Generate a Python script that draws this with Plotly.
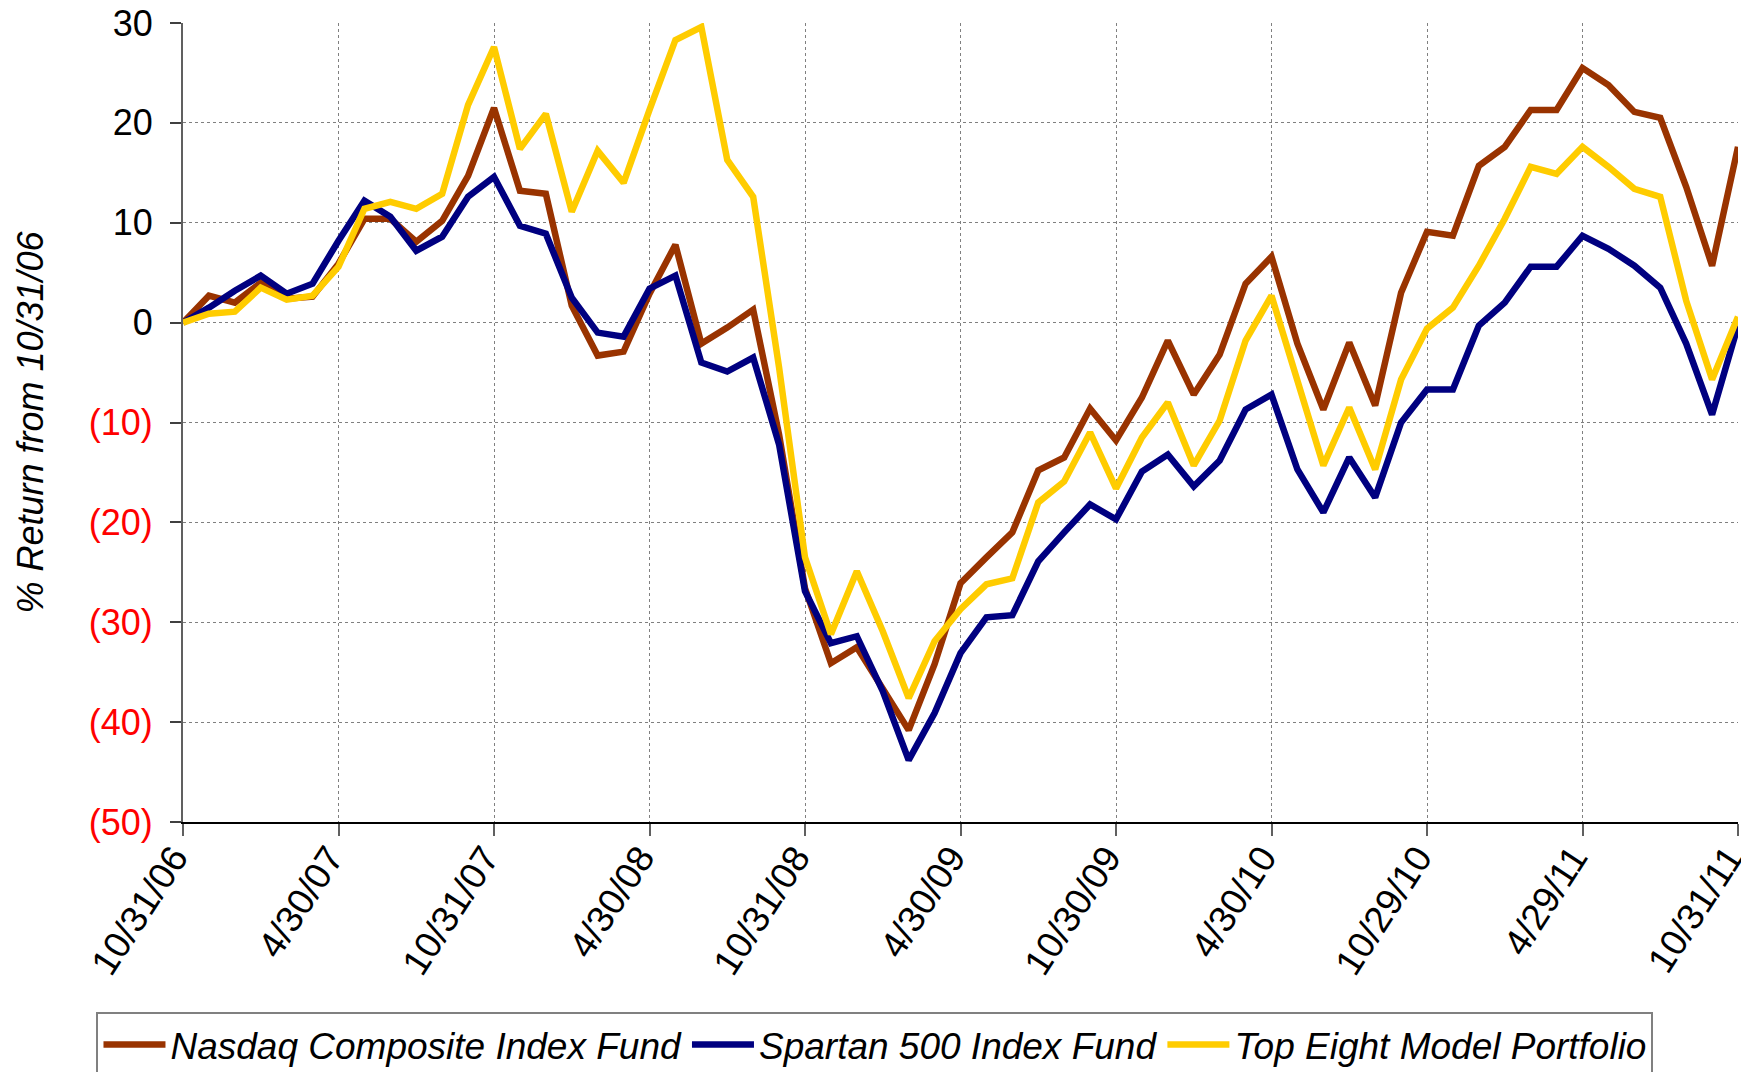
import pandas as pd
import plotly.graph_objects as go

# Month-end dates (business month ends) from 10/31/06 to 10/31/11
months = [d.strftime("%-m/%d/%y") for d in pd.date_range("2006-10-31", periods=61, freq="BME")]

nasdaq = [0, 2.7, 2.0, 4.0, 2.4, 2.6, 5.9, 10.4, 10.4, 8.1, 10.2, 14.7, 21.5, 13.2, 12.9, 1.7,
          -3.3, -2.9, 2.9, 7.8, -2.1, -0.5, 1.3, -11.2, -26.6, -34.1, -32.5, -36.6, -40.8, -34.2,
          -26.1, -23.5, -21.0, -14.8, -13.5, -8.6, -11.8, -7.5, -1.8, -7.2, -3.2, 3.9, 6.6, -2.1,
          -8.7, -2.0, -8.3, 3.0, 9.1, 8.7, 15.7, 17.6, 21.3, 21.3, 25.5, 23.8, 21.1, 20.5, 13.6,
          5.7, 17.6]
spartan = [0, 1.5, 3.2, 4.7, 2.9, 3.9, 8.2, 12.2, 10.6, 7.2, 8.6, 12.6, 14.6, 9.7, 8.9, 2.5,
           -1.0, -1.4, 3.4, 4.7, -4.0, -4.9, -3.5, -12.2, -26.9, -32.1, -31.4, -36.9, -43.8, -39.1,
           -33.1, -29.5, -29.3, -23.9, -21.0, -18.2, -19.7, -14.9, -13.2, -16.4, -13.8, -8.7, -7.2,
           -14.7, -19.0, -13.5, -17.5, -10.0, -6.7, -6.7, -0.3, 2.0, 5.6, 5.6, 8.7, 7.4, 5.7, 3.5,
           -2.1, -9.2, -0.3]
top_eight = [0, 0.9, 1.1, 3.5, 2.3, 2.7, 5.6, 11.4, 12.1, 11.4, 12.9, 21.8, 27.6, 17.4, 20.9, 11.1,
             17.2, 14.0, 21.3, 28.3, 29.6, 16.3, 12.6, -4.5, -23.5, -31.2, -24.9, -30.9, -37.6, -31.9,
             -28.7, -26.2, -25.6, -18.0, -15.9, -11.0, -16.6, -11.5, -8.0, -14.3, -9.8, -1.8, 2.7,
             -5.8, -14.3, -8.5, -14.7, -5.7, -0.6, 1.5, 5.7, 10.4, 15.6, 14.9, 17.6, 15.6, 13.4, 12.6,
             2.2, -5.7, 0.6]

series_names = ["Nasdaq Composite Index Fund", "Spartan 500 Index Fund", "Top Eight Model Portfolio"]
series_colors = ["#993300", "#000080", "#FFCC00"]

tick_labels = ["10/31/06", "4/30/07", "10/31/07", "4/30/08", "10/31/08", "4/30/09",
               "10/30/09", "4/30/10", "10/29/10", "4/29/11", "10/31/11"]
y_ticks = [30, 20, 10, 0, -10, -20, -30, -40, -50]
y_ticktext = ["30", "20", "10", "0",
              "<span style='color:#FF0000'>(10)</span>",
              "<span style='color:#FF0000'>(20)</span>",
              "<span style='color:#FF0000'>(30)</span>",
              "<span style='color:#FF0000'>(40)</span>",
              "<span style='color:#FF0000'>(50)</span>"]

FONT = "Liberation Sans, Arial, sans-serif"

fig = go.Figure()
for name, vals, col in zip(series_names, [nasdaq, spartan, top_eight], series_colors):
    fig.add_trace(go.Scatter(x=months, y=vals, mode="lines", name=name,
                             line=dict(color=col, width=6.5)))

fig.update_layout(
    width=1749, height=1072,
    margin=dict(l=175, r=19, t=15, b=258, autoexpand=False),
    paper_bgcolor="white", plot_bgcolor="white",
    font=dict(family=FONT, size=36, color="black"),
    showlegend=True,
    legend=dict(orientation="h", xref="container", yref="container",
                x=0.4957, xanchor="center", y=0.0635, yanchor="top",
                font=dict(family=FONT, size=37, style="italic"),
                bordercolor="#808080", borderwidth=2, bgcolor="white",
                itemwidth=62, tracegroupgap=0),
)
fig.update_xaxes(
    type="category", range=[0, 60],
    tickmode="array", tickvals=tick_labels, ticktext=tick_labels,
    tickangle=-57, tickfont=dict(family=FONT, size=37, color="black"),
    ticks="outside", ticklen=12, tickcolor="#606060", tickwidth=2,
    ticklabelstandoff=-15, ticklabelshift=-9, ticklabeloverflow="allow",
    showgrid=True, gridcolor="#808080", gridwidth=1, griddash="dot",
    showline=True, linecolor="black", linewidth=2,
    zeroline=False, automargin=False,
)
fig.update_yaxes(
    range=[-50, 30], tickmode="array", tickvals=y_ticks, ticktext=y_ticktext,
    tickfont=dict(family=FONT, size=36, color="black"),
    ticks="outside", ticklen=11, tickcolor="#404040", tickwidth=2,
    ticklabelstandoff=10, ticklabeloverflow="allow",
    showgrid=True, gridcolor="#808080", gridwidth=1, griddash="dot",
    showline=True, linecolor="#606060", linewidth=2,
    zeroline=False,
    title=dict(text="% Return from 10/31/06", standoff=34,
               font=dict(family=FONT, size=36, style="italic", color="black")),
    automargin=False,
)

fig.write_html("out.html")
